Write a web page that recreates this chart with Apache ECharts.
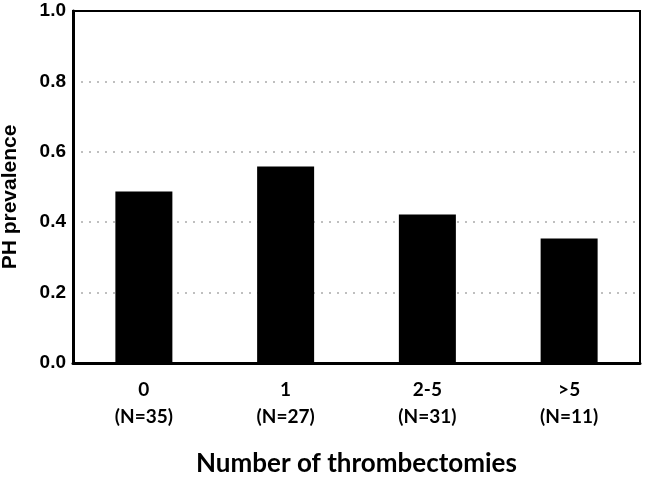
<!DOCTYPE html>
<html><head><meta charset="utf-8">
<script src="https://cdn.jsdelivr.net/npm/echarts@6/dist/echarts.min.js"></script>
<style>html,body{margin:0;padding:0;background:#fff}#c{width:646px;height:478px}</style>
</head><body><div id="c"></div>
<script>
const categories = ['0', '1', '2-5', '>5'];
const groupSizes = ['(N=35)', '(N=27)', '(N=31)', '(N=11)'];
const prevalence = [0.487, 0.558, 0.422, 0.354];
const yTicks = [0, 0.2, 0.4, 0.6, 0.8, 1.0];

const chart = echarts.init(document.getElementById('c'), null, {renderer: 'canvas'});
chart.setOption({
  animation: false,
  backgroundColor: '#fff',
  grid: {left: 73, right: 6, top: 11, bottom: 115, show: true, borderColor: '#000', borderWidth: 2,
         containLabel: false, outerBoundsMode: 'none'},
  xAxis: {
    type: 'category',
    data: categories.map((c, i) => c + '\n' + groupSizes[i]),
    name: 'Number of thrombectomies',
    nameLocation: 'middle',
    nameGap: 88,
    nameTextStyle: {fontFamily: 'Lato', fontWeight: 'bold', fontSize: 26, color: '#000'},
    axisLine: {lineStyle: {color: '#000', width: 3}},
    axisTick: {show: false},
    axisLabel: {
      margin: 13, color: '#000', fontFamily: 'Lato', fontWeight: 'bold', fontSize: 19, lineHeight: 27
    }
  },
  yAxis: {
    type: 'value', min: 0, max: 1, interval: 0.2,
    name: 'PH prevalence',
    nameLocation: 'middle',
    nameGap: 52,
    nameTextStyle: {fontFamily: 'Liberation Sans', fontWeight: 'bold', fontSize: 21, color: '#000',
                    padding: [0, 20, 0, 0]},
    axisLine: {show: true, lineStyle: {color: '#000', width: 3}},
    axisTick: {show: false},
    axisLabel: {
      margin: 7, color: '#000', fontFamily: 'Liberation Sans', fontWeight: 'bold', fontSize: 19,
      formatter: v => yTicks.includes(Math.round(v * 10) / 10) ? v.toFixed(1) : ''
    },
    splitLine: {show: true, showMinLine: false, showMaxLine: false,
                lineStyle: {color: '#aaa', type: [2, 6], width: 1.5}}
  },
  series: [{
    type: 'bar',
    data: prevalence,
    barWidth: 57,
    itemStyle: {color: '#000'}
  }]
});
</script></body></html>
